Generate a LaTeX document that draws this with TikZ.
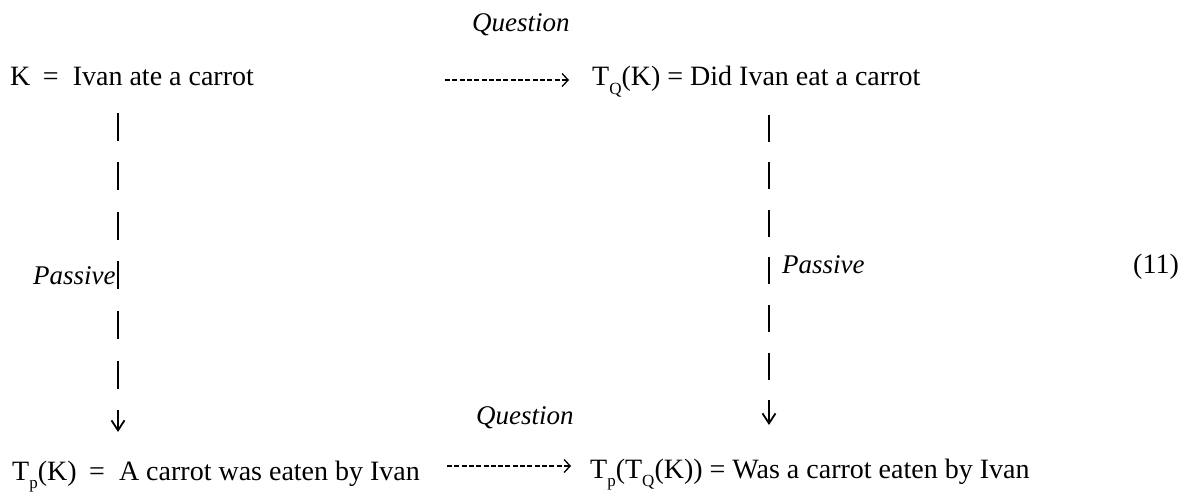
\documentclass[tikz,border=0pt]{standalone}
\usepackage{fontspec}
\setmainfont{Liberation Serif}
\usetikzlibrary{arrows.meta}
\newcommand\subsc[1]{\raisebox{-0.32em}{\fontsize{17}{17}\selectfont #1}}
\newcommand\wideeq{\hspace{0.45em}=\hspace{0.5em}}
\tikzset{
  txt/.style={anchor=base west, inner sep=0pt, font=\fontsize{28}{32}\selectfont},
  lbl/.style={anchor=base west, inner sep=0pt, font=\fontsize{27}{32}\selectfont\itshape},
  qarrow/.style={line width=1.3pt, dash pattern=on 5pt off 2.3pt,
    -{Straight Barb[length=6pt,width=13pt,line width=1.3pt]}},
  varrow/.style={line width=2pt, dash pattern=on 28pt off 21.5pt,
    -{Straight Barb[length=10pt,width=13pt,line width=1.8pt]}}
}
\begin{document}
\begin{tikzpicture}[x=1pt,y=-1pt]
\useasboundingbox (0,0) rectangle (1191,494);
% top row
\node[lbl] (q1) at (472,32) {Question};
\node[txt] (K) at (10,86) {K\wideeq Ivan ate a carrot};
\node[txt] (TQ) at (592,86) {T\subsc{Q}(K) = Did Ivan eat a carrot};
% bottom row
\node[lbl] (q2) at (476,424) {Question};
\node[txt] (TP) at (12,480) {T\subsc{p}(K)\wideeq A carrot was eaten by Ivan};
\node[txt] (TPQ) at (590,478) {T\subsc{p}(T\subsc{Q}(K)) = Was a carrot eaten by Ivan};
% side labels
\node[lbl] (p1) at (33,284) {Passive};
\node[lbl] (p2) at (782,273) {Passive};
\node[txt] (eq) at (1133,273) {(11)};
% connector end points
\coordinate (lt) at (118,113);
\coordinate (lb) at (118,432);
\coordinate (rt) at (769,115);
\coordinate (rb) at (769,425);
\coordinate (ha) at (445,80);
\coordinate (hb) at (569,80);
\coordinate (hc) at (447,466);
\coordinate (hd) at (571,466);
% connectors
\draw[qarrow] (ha) -- (hb);
\draw[qarrow] (hc) -- (hd);
\draw[varrow] (lt) -- (lb);
\draw[varrow, dash pattern=on 27pt off 20.5pt] (rt) -- (rb);
\end{tikzpicture}
\end{document}
